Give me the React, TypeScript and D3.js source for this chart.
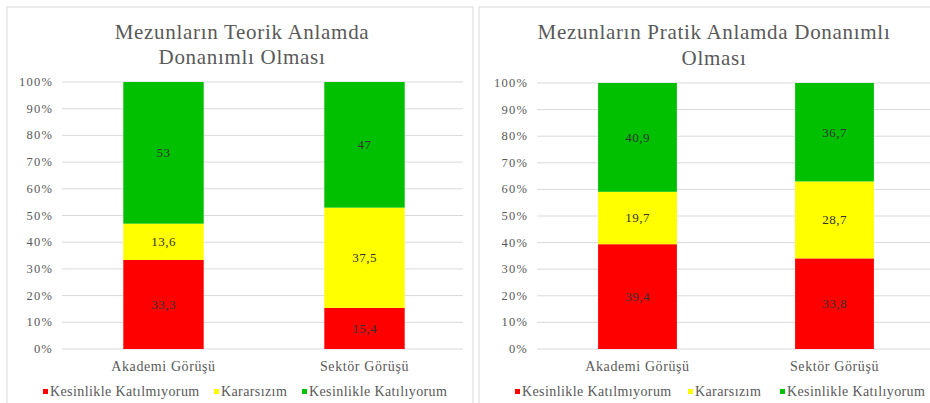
import React from 'react';
import * as d3 from 'd3';

const categories = ['Akademi Görüşü', 'Sektör Görüşü'];
const seriesNames = ['Kesinlikle Katılmıyorum', 'Kararsızım', 'Kesinlikle Katılıyorum'];
const seriesColors = ['#ff0000', '#ffff00', '#00c000'];

const teorikKatilmiyor = [33.3, 15.4];
const teorikKararsiz = [13.6, 37.5];
const teorikKatiliyor = [53, 47];

const pratikKatilmiyor = [39.4, 33.8];
const pratikKararsiz = [19.7, 28.7];
const pratikKatiliyor = [40.9, 36.7];

const yTicks = [0, 0.1, 0.2, 0.3, 0.4, 0.5, 0.6, 0.7, 0.8, 0.9, 1];

const FONT = 'Liberation Serif';
const fmt = (v: number) => String(v).replace('.', ',');

interface PanelProps {
  x0: number;
  width: number;
  titleLines: string[];
  titleY: number[];
  titleCx: number;
  series: number[][];
  gridLeft: number;
  gridRight: number;
  bandRange: [number, number];
  yTop: number;
  yBottom: number;
  legendX: number[];
}

const Panel: React.FC<PanelProps> = (p) => {
  const x = d3.scaleBand<string>().domain(categories).range(p.bandRange).paddingInner(0.6).paddingOuter(0.3);
  const y = d3.scaleLinear().domain([0, 1]).range([p.yBottom, p.yTop]);

  const rows = categories.map((c, i) => ({ cat: c, s0: p.series[0][i], s1: p.series[1][i], s2: p.series[2][i] }));
  // 100% stacked, like the spreadsheet chart
  const stacked = d3.stack<any>().keys(['s0', 's1', 's2']).offset(d3.stackOffsetExpand)(rows);

  return (
    <g>
      <rect x={p.x0} y={7} width={p.width} height={400} fill="#fff" stroke="#d9d9d9" />
      {p.titleLines.map((t, i) => (
        <text key={i} x={p.titleCx} y={p.titleY[i]} textAnchor="middle" fontSize={21} fill="#595959" fontFamily={FONT} letterSpacing={0.7}>
          {t}
        </text>
      ))}
      {yTicks.map((t) => (
        <g key={t}>
          <line x1={p.gridLeft} x2={p.gridRight} y1={y(t)} y2={y(t)} stroke="#d9d9d9" />
          <text x={p.gridLeft - 9} y={y(t) + 4} textAnchor="end" fontSize={12.5} fill="#595959" fontFamily={FONT} letterSpacing={1.2}>
            {d3.format('.0%')(t)}
          </text>
        </g>
      ))}
      {stacked.map((layer, si) =>
        layer.map((d, ci) => (
          <g key={`${si}-${ci}`}>
            <rect x={x(categories[ci])!} y={y(d[1])} width={x.bandwidth()} height={y(d[0]) - y(d[1])} fill={seriesColors[si]} />
            <text
              x={x(categories[ci])! + x.bandwidth() / 2}
              y={(y(d[0]) + y(d[1])) / 2 + 4.5}
              textAnchor="middle"
              fontSize={13}
              fill="#333"
              fontFamily={FONT}
              letterSpacing={0.5}
            >
              {fmt(p.series[si][ci])}
            </text>
          </g>
        ))
      )}
      {categories.map((c) => (
        <text key={c} x={x(c)! + x.bandwidth() / 2} y={p.yBottom + 22} textAnchor="middle" fontSize={14} fill="#595959" fontFamily={FONT} letterSpacing={0.6}>
          {c}
        </text>
      ))}
      {seriesNames.map((n, i) => (
        <g key={n}>
          <rect x={p.legendX[i]} y={389} width={5} height={5} fill={seriesColors[i]} />
          <text x={p.legendX[i] + 7} y={396} fontSize={14} fill="#595959" fontFamily={FONT} letterSpacing={0.4}>
            {n}
          </text>
        </g>
      ))}
    </g>
  );
};

export default function App() {
  return (
    <div style={{ position: 'absolute', left: 0, top: 0, width: 930, height: 403 }}>
      <svg width={930} height={403} style={{ display: 'block', background: '#fff' }}>
        <rect x={0} y={0} width={930} height={403} fill="#fff" />
        <Panel
          x0={7}
          width={466}
          titleLines={['Mezunların  Teorik Anlamda', 'Donanımlı Olması']}
          titleY={[39, 64]}
          titleCx={242}
          series={[teorikKatilmiyor, teorikKararsiz, teorikKatiliyor]}
          gridLeft={62}
          gridRight={463}
          bandRange={[63, 465]}
          yTop={82}
          yBottom={349}
          legendX={[43, 214, 302]}
        />
        <Panel
          x0={479}
          width={460}
          titleLines={['Mezunların Pratik Anlamda Donanımlı', 'Olması']}
          titleY={[39, 65]}
          titleCx={714}
          series={[pratikKatilmiyor, pratikKararsiz, pratikKatiliyor]}
          gridLeft={537}
          gridRight={930}
          bandRange={[539, 933]}
          yTop={83}
          yBottom={349}
          legendX={[515, 688, 780]}
        />
      </svg>
    </div>
  );
}
